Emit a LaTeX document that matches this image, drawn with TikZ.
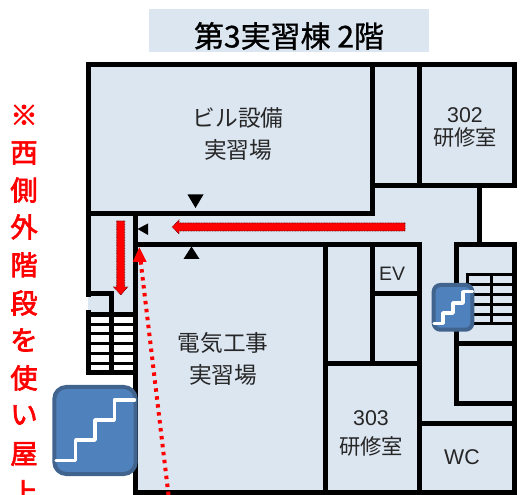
\documentclass[tikz,border=0pt]{standalone}
\usepackage{xcolor}
\usepackage{fontspec}
\setmainfont{Noto Sans CJK JP}
\newfontfamily\heavyfont[FakeBold=1]{Noto Sans CJK JP}
\newfontfamily\notefont[FakeBold=2.5]{Noto Sans CJK JP}
\newfontfamily\latinfont{Liberation Sans}
\definecolor{roomfill}{HTML}{DCE6F1}
\definecolor{iconfill}{HTML}{4F81BD}
\definecolor{iconedge}{HTML}{41648F}
\tikzset{
  wall/.style={line width=3.75pt,line cap=rect},
  thinwall/.style={line width=2.25pt},
  roomlabel/.style={inner sep=0.75pt,align=center,text=black!85,font=\fontsize{17}{24}\selectfont},
  smalllabel/.style={inner sep=0.75pt,text=black!85,font=\latinfont\fontsize{16}{20}\selectfont},
  sidelabel/.style={inner sep=0pt,text=red,font=\notefont\fontsize{20.5}{21}\selectfont},
  redarrow/.style={fill=red,draw=black!60!red,line width=0.5pt,dash pattern=on 0.6pt off 0.6pt},
  redhead/.style={fill=red,draw=none},
  marker/.style={fill=black,draw=none},
  stairline/.style={white,line width=2.6pt,line cap=round,line join=round},
  stairicon/.style={fill=iconfill,draw=iconedge,line width=3pt,rounded corners=9pt}
}
\begin{document}
\begin{tikzpicture}[x=0.75pt,y=0.75pt,yscale=-1,xscale=1]

\useasboundingbox (0,0) rectangle (525,495);

% title
\fill [roomfill] (149,9) rectangle (429,52);
\node (title) [inner sep=0.75pt,font=\heavyfont\fontsize{22.5}{26}\selectfont] at (289,36) {第3実習棟 2階};

% floor
\fill [roomfill] (88,65) -- (514,65) -- (514,185) -- (479,185) -- (479,244) -- (514,244) -- (514,492) -- (135,492) -- (135,375) -- (88,375) -- cycle;
\fill [white] (88,314) rectangle (135,375);

% walls
\draw [wall] (88,295) -- (88,65) -- (514.5,65) -- (514.5,185.5) -- (372.5,185.5);
\draw [wall] (88,214) -- (372.5,214) -- (372.5,65);
\draw [wall] (419.5,65) -- (419.5,185.5);
\draw [wall] (479,185.5) -- (479,244.5);
\draw [wall] (456,244.5) -- (514.5,244.5) -- (514.5,492.5) -- (135.5,492.5) -- (135.5,214);
\draw [wall] (135.5,244.5) -- (419.5,244.5) -- (419.5,492.5);
\draw [wall] (325.5,244.5) -- (325.5,492.5);
\draw [wall] (372.5,244.5) -- (372.5,363.5);
\draw [wall] (372.5,294) -- (419.5,294);
\draw [wall] (325.5,363.5) -- (419.5,363.5);
\draw [wall] (419.5,423) -- (514.5,423);
\draw [wall] (456,244.5) -- (456,403) -- (514.5,403);
\draw [wall] (456,343.5) -- (514.5,343.5);
\draw [wall] (88,294) -- (111.5,294) -- (111.5,373);

% west stairs
\draw [wall] (88,313) -- (88,373) -- (135.5,373);
\draw [wall,line cap=butt] (88,314.5) -- (135.5,314.5);
\foreach \y in {324.5,334,344,353.5,363.5} {
  \draw [thinwall] (88,\y) -- (135.5,\y);
}

% east stairs
\draw [thinwall] (514,275) -- (467.5,275) -- (467.5,324) -- (514,324);
\draw [thinwall] (491.5,275) -- (491.5,324);
\foreach \y in {285,295,305,315} {
  \draw [thinwall] (467.5,\y) -- (514,\y);
}

% rooms
\node (bldg) [roomlabel] at (238,134) {ビル設備\\実習場};
\node (elec) [roomlabel] at (223,359) {電気工事\\実習場};
\node (r302a) [smalllabel] at (465,115) {302};
\node (r302b) [roomlabel,font=\fontsize{16}{20}\selectfont] at (465,137) {研修室};
\node (r303a) [smalllabel] at (371,418) {303};
\node (r303b) [roomlabel,font=\fontsize{16}{20}\selectfont] at (371,446) {研修室};
\node (ev) [smalllabel,font=\latinfont\fontsize{14.6}{18}\selectfont] at (392,274) {EV};
\node (wc) [smalllabel] at (462,457) {WC};

% markers
\fill [marker] (187.5,194.5) -- (203.5,194.5) -- (195.5,208) -- cycle;
\fill [marker] (183.5,259) -- (199.5,259) -- (191.5,246.5) -- cycle;
\fill [marker] (148,223.5) -- (148,235) -- (137.5,229) -- cycle;

% route
\draw [redarrow] (405,223) -- (179,223) -- (179,220) -- (172,227) -- (179,234) -- (179,231) -- (405,231) -- cycle;
\draw [redarrow] (116.7,221) -- (124.7,221) -- (124.7,287) -- (127.7,287) -- (120.7,295) -- (113.7,287) -- (116.7,287) -- cycle;
\draw [red,line width=3pt,dash pattern=on 2.6pt off 3.4pt] (168.5,495) -- (140.5,260);
\fill [redhead] (132.7,262) -- (146.7,262) -- (139.3,247.3) -- cycle;

% stair icons
\draw [stairicon] (54.3,387) rectangle (135.7,474);
\draw [stairline] (56,460.7) -- (75.7,460.7) -- (75.7,440) -- (95,440) -- (95,420) -- (114.3,420) -- (114.3,400) -- (134.5,400);
\draw [stairicon,rounded corners=5pt] (433.7,285) rectangle (472.3,329.7);
\draw [stairline] (434,323.3) -- (443,323.3) -- (443,313) -- (453,313) -- (453,303) -- (463,303) -- (463,291.7) -- (472.5,291.7);

% note
\foreach \c/\y/\n in {※/115/a,西/153/b,側/190/c,外/227/d,階/265/e,段/303/f,を/340/g,使/378/h,い/415/i,屋/454/j,上/492/k} {
  \node (note\n) [sidelabel] at (24,\y) {\c};
}

\end{tikzpicture}
\end{document}
